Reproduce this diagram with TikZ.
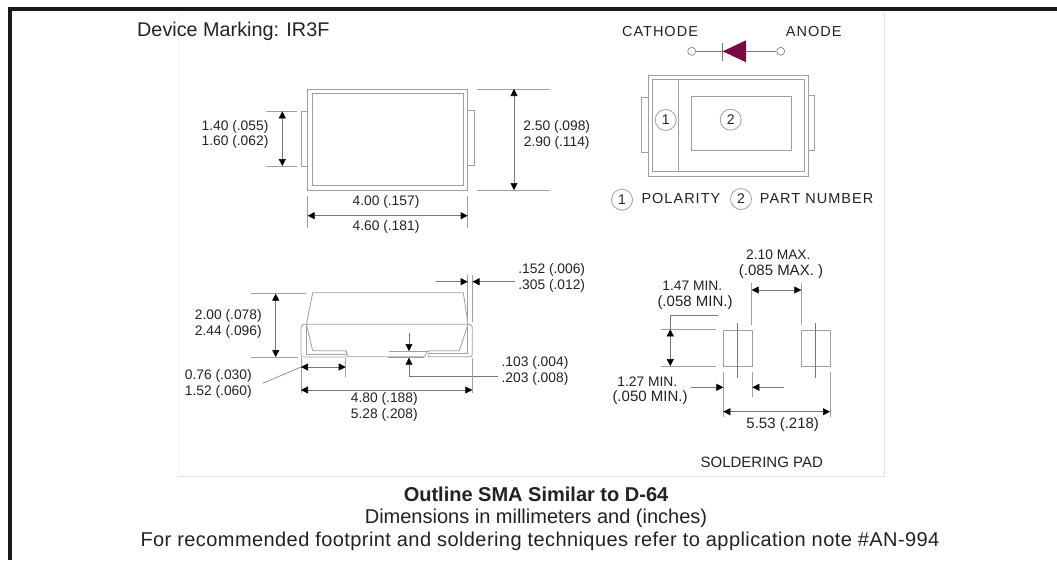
\documentclass[tikz,border=0pt]{standalone}
\usepackage{fontspec}
\setmainfont{Liberation Sans}
\usetikzlibrary{arrows.meta}
\definecolor{ln}{HTML}{A0A0A0}
\definecolor{dl}{HTML}{777777}
\definecolor{tx}{HTML}{222222}
\definecolor{maroon}{HTML}{7A0A45}
\newfontfamily\wide[LetterSpace=7]{Liberation Sans}
\newfontfamily\slightwide[LetterSpace=2.1]{Liberation Sans}
\tikzset{
  part/.style={draw=ln,line width=0.9pt},
  dimline/.style={draw=dl,line width=0.6pt},
  ext/.style={draw=ln,line width=0.6pt},
  arr/.style={draw=dl,line width=0.6pt,{Triangle[length=7pt,width=7pt,black]}-{Triangle[length=7pt,width=7pt,black]}},
  arrend/.style={draw=dl,line width=0.6pt,-{Triangle[length=7pt,width=7pt,black]}},
  lbl/.style={font=\fontsize{13.8}{16}\selectfont,text=tx,inner sep=0pt,anchor=center},
  lblb/.style={font=\fontsize{15}{17}\selectfont,text=tx,inner sep=0pt,anchor=center},
  captxt/.style={font=\fontsize{14.5}{17}\selectfont,text=tx,inner sep=0pt,anchor=center},
  num/.style={circle,draw=ln,line width=0.8pt,minimum size=21pt,inner sep=0pt,text=tx,font=\fontsize{14}{16}\selectfont},
  term/.style={circle,draw=dl,fill=white,line width=0.6pt,minimum size=8pt,inner sep=0pt},
}
\begin{document}
\begin{tikzpicture}[x=1pt,y=-1pt]
\useasboundingbox (0,0) rectangle (1057,560);
\fill[white] (0,0) rectangle (1057,560);
% frame
\fill[black!90] (8,7) rectangle (1057,11);
\fill[black!90] (8,7) rectangle (11.5,560);
% panel
\draw[draw=black!4,line width=0.8pt] (178,476) -- (178,13) -- (884,13);
\draw[draw=black!12,line width=0.8pt] (884,13) -- (884,476) -- (178,476);

\node[font=\fontsize{19.8}{22}\selectfont,text=tx,inner sep=0pt,anchor=west] (devmark) at (137,31) {Device Marking: IR3F};

% --- top view
\draw[part] (301.3,111.3) rectangle (307.7,166);
\draw[part] (467.7,110) rectangle (474.3,165);
\draw[part] (307.7,89) rectangle (467.7,190);
\draw[part] (312.7,93) rectangle (463.7,185.7);
\draw[ext] (266,111.3) -- (296.7,111.3) (266,166) -- (296.7,166);
\draw[arr] (282.3,111.3) -- (282.3,166);
\draw[ext] (477.3,89) -- (550,89) (477.3,190) -- (550,190);
\draw[arr] (514,89) -- (514,190);
\draw[ext] (307.7,196) -- (307.7,228.3) (467.7,196) -- (467.7,228.3);
\draw[arr] (307.7,215.7) -- (467.7,215.7);
\node[lbl] (a1) at (235,126.7) {1.40 (.055)};
\node[lbl] (a2) at (235,141.7) {1.60 (.062)};
\node[lbl] (b1) at (556.7,127.3) {2.50 (.098)};
\node[lbl] (b2) at (556.7,142.7) {2.90 (.114)};
\node[lbl] (c1) at (386,202.3) {4.00 (.157)};
\node[lbl] (c2) at (386,226.7) {4.60 (.181)};

% --- symbol
\node[term] (cath) at (691.7,51.3) {};
\node[term] (anod) at (780.7,51.3) {};
\draw[dimline] (cath) -- (anod);
\fill[maroon] (722.7,51.3) -- (746,40.3) -- (746,62.3) -- cycle;
\draw[dimline] (722,43.3) -- (722,61);
\node[captxt] (cathtxt) at (660,31.7) {\wide CATHODE};
\node[captxt] (anodtxt) at (813.7,31.7) {\wide ANODE};

% --- marking view
\draw[part] (641.3,97.3) rectangle (648.3,152.3);
\draw[part] (808.7,95.3) rectangle (814.7,150.7);
\draw[part] (648.3,75.3) rectangle (808.7,176.3);
\draw[part] (652.7,79.3) rectangle (804.3,171.7);
\draw[part] (678,79.3) -- (678,171.7);
\draw[part] (691.7,96.7) rectangle (791.7,150.7);
\node[num,fill=white] (n1) at (665.7,120) {1};
\node[num,fill=white] (n2) at (730.7,119.7) {2};
\node[num] (l1) at (622,199.7) {1};
\node[num] (l2) at (741,199) {2};
\node[captxt,anchor=west] (pol) at (641.3,198.7) {\wide POLARITY};
\node[captxt,anchor=west] (pn) at (759.7,198.7) {\wide PART NUMBER};

% --- side view
\draw[part,line width=0.8pt,line join=round] (306.5,324.3) -- (312.7,292.7) -- (463.3,292.7) -- (468,324.3) -- (459.3,350.7) -- (430,350.7) -- (428.3,351.5) -- (428.3,356.7) -- (470,356.7) arc[start angle=90,end angle=0,radius=2.3] -- (472.3,327.3) arc[start angle=0,end angle=-90,radius=3] -- (304,324.3) arc[start angle=-90,end angle=-180,radius=3] -- (301,355) arc[start angle=180,end angle=90,radius=2] -- (346,357) -- (346,350.7) -- (312.7,350.7) -- cycle;
\draw[part,line width=0.8pt] (306,326) -- (306,354) -- (345,354);
\draw[part,line width=0.8pt] (467.3,326) -- (467.3,353.3) -- (429,353.3);
\draw[part,line width=0.8pt] (346,350.7) -- (348,356.7) -- (425,356.7) -- (426.7,351.5) -- (429,351);
\draw[part,line width=0.8pt] (389.3,351) -- (426.7,351);
\draw[draw=ln,line width=1.6pt] (388,357.6) -- (424,357.6);
\draw[ext] (251,293.7) -- (306,293.7) (251,357) -- (298.3,357);
\draw[arr] (275.7,293.7) -- (275.7,357);
\draw[ext] (467.7,275) -- (467.7,321.7) (472.3,275) -- (472.3,321.7);
\coordinate (p1a) at (436,281.7);
\coordinate (p1b) at (467.7,281.7);
\coordinate (p2a) at (515,281.7);
\coordinate (p2b) at (472.5,281.7);
\draw[arrend] (p1a) -- (p1b);
\draw[arrend] (p2a) -- (p2b);
\draw[arrend] (409,333.3) -- (409,351);
\coordinate (g0) at (498.3,376);
\draw[arrend] (g0) -- (409,376) -- (409,357.7);
\draw[ext] (345.7,358) -- (345.7,376.7) (301,358) -- (301,393.3) (472.3,358) -- (472.3,393.3);
\draw[arr] (301,367) -- (345.7,367);
\draw[dimline] (262.7,383.3) -- (301,367);
\draw[arr] (301,390) -- (472.3,390);
\node[lbl] (d1) at (551.7,270) {.152 (.006)};
\node[lbl] (d2) at (551.7,286) {.305 (.012)};
\node[lbl] (e1) at (228.3,316) {2.00 (.078)};
\node[lbl] (e2) at (228.3,331.7) {2.44 (.096)};
\node[lbl] (f1) at (218.3,376) {0.76 (.030)};
\node[lbl] (f2) at (218.3,392.3) {1.52 (.060)};
\node[lbl] (g1) at (535,363.3) {.103 (.004)};
\node[lbl] (g2) at (535,379.3) {.203 (.008)};
\node[lbl] (h1) at (384.3,399) {4.80 (.188)};
\node[lbl] (h2) at (384.3,414.7) {5.28 (.208)};

% --- soldering pad
\draw[part] (723.3,330) rectangle (752.3,366.7);
\draw[part] (801,330) rectangle (830,366.7);
\draw[dimline] (737.7,323.3) -- (737.7,378.3) (815.3,323.3) -- (815.3,378.3);
\draw[ext] (751.7,283.3) -- (751.7,325) (801.3,283.3) -- (801.3,325);
\draw[arr] (751.7,290) -- (801.3,290);
\draw[ext] (660.7,329.3) -- (715.7,329.3) (660.7,366) -- (715.7,366);
\draw[arr] (670.3,329.3) -- (670.3,366);
\draw[dimline] (718.3,315.7) -- (670.5,315.7) -- (670.5,329);
\draw[ext] (723.3,371.7) -- (723.3,416.7) (752.3,371.7) -- (752.3,397.3) (830,371.7) -- (830,416.7);
\draw[arrend] (690.7,387.3) -- (723.3,387.3);
\draw[arrend] (784,387.3) -- (752.3,387.3);
\draw[arr] (723.3,411.7) -- (830,411.7);
\node[lbl] (i1) at (778.3,255) {2.10 MAX.};
\node[lblb] (i2) at (781,271.7) {(.085 MAX. )};
\node[lbl] (j1) at (692.3,286) {1.47 MIN.};
\node[lblb] (j2) at (695,302.3) {(.058 MIN.)};
\node[lbl] (k1) at (647.3,381.7) {1.27 MIN.};
\node[lblb] (k2) at (650,397.7) {(.050 MIN.)};
\node[lblb] (m1) at (782.7,425) {5.53 (.218)};
\node[lblb] (m2) at (761.7,462.7) {SOLDERING PAD};

% --- captions
\node[font=\bfseries\fontsize{20}{22}\selectfont,text=tx,inner sep=0pt] (t1) at (536,494.5) {Outline SMA Similar to D-64};
\node[font=\fontsize{20}{22}\selectfont,text=tx,inner sep=0pt] (t2) at (536,518) {Dimensions in millimeters and (inches)};
\node[font=\fontsize{20}{22}\selectfont,text=tx,inner sep=0pt] (t3) at (540,541) {\slightwide For recommended footprint and soldering techniques refer to application note \#AN-994};
\end{tikzpicture}
\end{document}
